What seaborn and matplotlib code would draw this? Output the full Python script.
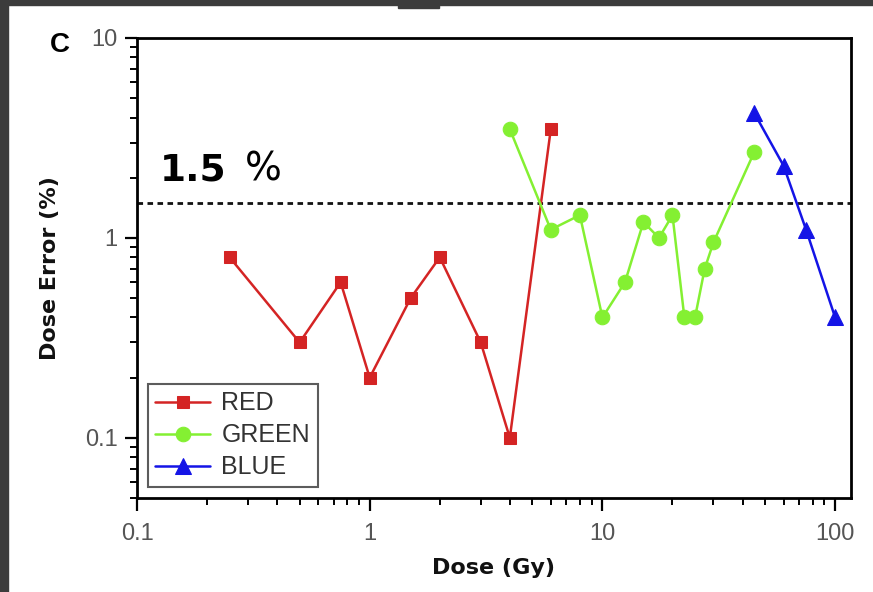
import matplotlib
matplotlib.use("Agg")
import matplotlib.pyplot as plt
import matplotlib.ticker as mticker
from matplotlib.patches import Rectangle
import seaborn as sns
import pandas as pd

# Dose (Gy) and dose error (%) for each colour channel
red_dose = [0.25, 0.5, 0.75, 1, 1.5, 2, 3, 4, 6]
red_err = [0.8, 0.3, 0.6, 0.2, 0.5, 0.8, 0.3, 0.1, 3.5]

green_dose = [4, 6, 8, 10, 12.5, 15, 17.5, 20, 22.5, 25, 27.5, 30, 45]
green_err = [3.5, 1.1, 1.3, 0.4, 0.6, 1.2, 1.0, 1.3, 0.4, 0.4, 0.7, 0.95, 2.7]

blue_dose = [45, 60, 75, 100]
blue_err = [4.2, 2.3, 1.1, 0.4]

threshold = 1.5
x_ticks = [0.1, 1, 10, 100]
x_tick_labels = ["0.1", "1", "10", "100"]
y_ticks = [0.1, 1, 10]
y_tick_labels = ["0.1", "1", "10"]

sns.set_theme(style="white")
plt.rcParams["font.family"] = ["Liberation Sans", "DejaVu Sans"]

fig = plt.figure(figsize=(8.73, 5.92), dpi=100)
W, H = 873, 592
ax = fig.add_axes([137 / W, 1 - 498 / H, (851 - 137) / W, (498 - 38) / H])

# dark frame strips around the figure
frame = "#3c3c3c"
fig.patches.append(Rectangle((0, 0), 8 / W, 1, transform=fig.transFigure, color=frame, zorder=-1))
fig.patches.append(Rectangle((0, 1 - 5 / H), 1, 5 / H, transform=fig.transFigure, color=frame, zorder=-1))
fig.patches.append(Rectangle((398 / W, 1 - 8 / H), 41 / W, 8 / H, transform=fig.transFigure, color=frame, zorder=-1))

series = [
    ("RED", red_dose, red_err, "#d42424", "s", 9),
    ("GREEN", green_dose, green_err, "#84f032", "o", 10.5),
    ("BLUE", blue_dose, blue_err, "#1414e6", "^", 11.5),
]
for name, dose, err, col, mk, ms in series:
    df = pd.DataFrame({"dose": dose, "err": err})
    sns.lineplot(data=df, x="dose", y="err", ax=ax, color=col, marker=mk,
                 markersize=ms, markeredgecolor=col, linewidth=1.8,
                 sort=False, label=name, zorder=3)

ax.axhline(threshold, color="#111111", linestyle=(0, (2, 1.6)), linewidth=2.0, zorder=2)

ax.set_xscale("log")
ax.set_yscale("log")
ax.set_xlim(0.1, 117)
ax.set_ylim(0.05, 10)

ax.set_xticks(x_ticks)
ax.set_xticklabels(x_tick_labels)
ax.set_yticks(y_ticks)
ax.set_yticklabels(y_tick_labels)
ax.xaxis.set_minor_locator(mticker.LogLocator(base=10, subs=range(2, 10)))
ax.yaxis.set_minor_locator(mticker.LogLocator(base=10, subs=range(2, 10)))
ax.xaxis.set_minor_formatter(mticker.NullFormatter())
ax.yaxis.set_minor_formatter(mticker.NullFormatter())

ax.tick_params(axis="both", which="major", direction="out", length=9, width=1.6,
               color="black", labelsize=17, labelcolor="#555555",
               bottom=True, left=True, top=False, right=False)
ax.tick_params(axis="x", which="major", pad=9)
ax.tick_params(axis="y", which="major", pad=5)
ax.tick_params(axis="both", which="minor", direction="out", length=5, width=1.4,
               color="black", bottom=True, left=True, top=False, right=False)

for s in ax.spines.values():
    s.set_color("black")
    s.set_linewidth(2.0)

ax.set_xlabel("Dose (Gy)", fontsize=16, fontweight="bold", family="DejaVu Sans",
              labelpad=9, color="#111111")
ax.set_ylabel("Dose Error (%)", fontsize=16, fontweight="bold", family="DejaVu Sans",
              labelpad=18, color="#111111")

ax.text(0.032, 0.69, "1.5", transform=ax.transAxes, fontsize=27,
        fontweight="bold", family="DejaVu Sans", color="black", va="baseline")
ax.text(0.151, 0.69, "%", transform=ax.transAxes, fontsize=28,
        family="DejaVu Sans", color="black", va="baseline")
fig.text(50 / W, 1 - 52 / H, "C", fontsize=20, fontweight="bold", color="black")

leg = ax.legend(loc="lower left", bbox_to_anchor=(0.015, 0.024), fontsize=18,
                frameon=True, fancybox=False, edgecolor="#333333",
                handlelength=2.2, handletextpad=0.45, borderpad=0.3,
                labelspacing=0.32, borderaxespad=0)
leg.get_frame().set_linewidth(1.5)
for t in leg.get_texts():
    t.set_color("#333333")

fig.savefig("out.png", dpi=100, facecolor="white")
